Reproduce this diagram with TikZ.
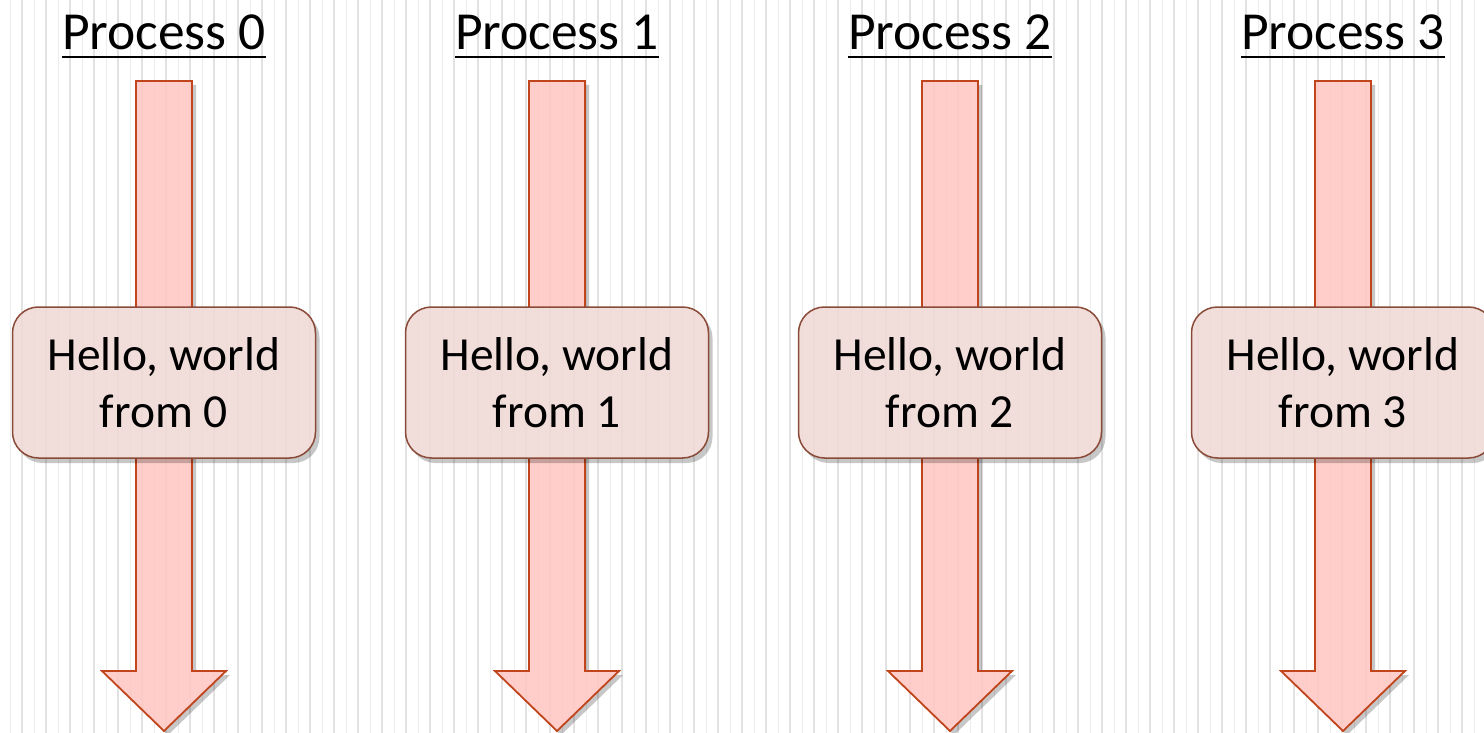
\documentclass[tikz,border=0pt]{standalone}
\usepackage{fontspec}
\setmainfont{Carlito}
\definecolor{stripeA}{HTML}{E2E2E2}
\definecolor{stripeB}{HTML}{EDEDED}
\definecolor{arrfill}{HTML}{FFC6C1}
\definecolor{arrdraw}{HTML}{C0441C}
\definecolor{boxfill}{HTML}{EFD8D4}
\definecolor{boxdraw}{HTML}{8A4A38}
\newcommand\mystripes{%
  \foreach \k in {0,...,123} {
    \pgfmathsetmacro{\xx}{10+12*\k}
    \ifodd\k
      \draw[stripeA, line width=1.4pt] (\xx,0) -- (\xx,733);
    \else
      \draw[stripeB, line width=0.9pt] (\xx,0) -- (\xx,733);
    \fi
  }}
\newcommand\arrowpath[1]{(#1-28,81) -- (#1+28,81) -- (#1+28,671) -- (#1+62,671) -- (#1,731)
      -- (#1-62,671) -- (#1-28,671) -- cycle}
\newcommand\boxpath[1]{[rounded corners=26pt] (#1-151.5,307) rectangle (#1+151.5,458)}
\tikzset{
  x=1pt, y=-1pt,
  shadowfill/.style={fill=black, fill opacity=0.22},
  arrowshape/.style={fill=arrfill, fill opacity=0.85, draw=arrdraw, draw opacity=1, line width=1.8pt, line join=miter},
  hbox/.style={rectangle, rounded corners=26pt, minimum width=303pt, minimum height=151pt,
     fill=boxfill, fill opacity=0.85, text opacity=1, draw=boxdraw, draw opacity=1, line width=1.5pt,
     align=center, font=\fontsize{47.5}{57}\selectfont, inner sep=0pt},
  title/.style={anchor=base, inner sep=0pt, font=\fontsize{53.5}{60}\selectfont},
}
\begin{document}
\begin{tikzpicture}
\useasboundingbox (0,0) rectangle (1484,733);
\clip (0,0) rectangle (1484,733);
\fill[white] (0,0) rectangle (1484,733);
\mystripes
\foreach \i/\c in {0/164,1/557,2/950,3/1343} {
  \node[title] (t\i) at (\c,50) {Process \i};
  \draw[line width=2pt] ([yshift=-7pt]t\i.base west) -- ([yshift=-7pt]t\i.base east);
  % arrow: shadow, clear, stripes, tinted fill
  \begin{scope}[shift={(4,4)}]
    \fill[shadowfill] \arrowpath{\c};
  \end{scope}
  \fill[white] \arrowpath{\c};
  \begin{scope}
    \clip \arrowpath{\c};
    \mystripes
  \end{scope}
  \path[arrowshape] \arrowpath{\c};
  % box: shadow, clear, stripes, tinted fill
  \begin{scope}[shift={(4,5)}]
    \fill[shadowfill] \boxpath{\c};
  \end{scope}
  \fill[white] \boxpath{\c};
  \begin{scope}
    \clip \boxpath{\c};
    \mystripes
  \end{scope}
  \node[hbox] (b\i) at (\c,382.5) {Hello, world\\from \i};
}
\end{tikzpicture}
\end{document}
